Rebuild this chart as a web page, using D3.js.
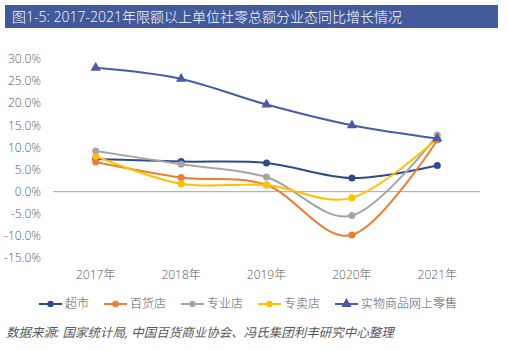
<!DOCTYPE html>
<html>
<head>
<meta charset="utf-8">
<script src="https://cdn.jsdelivr.net/npm/d3@7"></script>
<style>
  body { margin: 0; background: #fff; }
  svg { font-family: "Open Sans", "Noto Sans CJK SC", sans-serif; }
</style>
</head>
<body>
<div id="content"></div>
<script>
const years = ["2017年", "2018年", "2019年", "2020年", "2021年"];
const yTicks = [30, 25, 20, 15, 10, 5, 0, -5, -10, -15];
const seriesNames = ["超市", "百货店", "专业店", "专卖店", "实物商品网上零售"];
const supermarket = [7.4, 6.8, 6.5, 3.1, 5.9];
const department = [6.7, 3.2, 1.5, -9.8, 11.7];
const specialty = [9.2, 6.2, 3.3, -5.4, 12.8];
const exclusive = [8.0, 1.8, 1.5, -1.4, 12.0];
const online = [28.0, 25.5, 19.7, 15.0, 12.0];
const colors = ["#2b4b8c", "#ed7d31", "#a5a5a5", "#ffc000", "#4a5aa6"];
const title = "图1-5: 2017-2021年限额以上单位社零总额分业态同比增长情况";
const source = "数据来源: 国家统计局, 中国百货商业协会、冯氏集团利丰研究中心整理";

const series = [supermarket, department, specialty, exclusive, online];

const width = 508;
const height = 351;

const canvas = d3.select("#content")
    .append("svg")
    .attr("width", width)
    .attr("height", height);

// title bar
canvas.append("rect")
    .attr("x", 5).attr("y", 5)
    .attr("width", 493).attr("height", 23)
    .attr("fill", "#42599b");
canvas.append("text")
    .attr("x", 12).attr("y", 21.5)
    .attr("fill", "#fff")
    .attr("font-size", 14)
    .attr("font-weight", 300)
    .text(title);

const xScale = d3.scalePoint()
    .domain(years)
    .range([53, 480])
    .padding(0.5);
const yScale = d3.scaleLinear()
    .domain([-15, 30])
    .range([258, 59]);

// y labels
canvas.append("g")
    .selectAll("text")
    .data(yTicks)
    .enter()
    .append("text")
    .attr("x", 41)
    .attr("y", d => yScale(d))
    .attr("dy", "0.35em")
    .attr("text-anchor", "end")
    .attr("font-size", 12)
    .attr("font-weight", 300)
    .attr("fill", "#595959")
    .text(d => d.toFixed(1) + "%");

// zero line
canvas.append("line")
    .attr("x1", 53).attr("x2", 480)
    .attr("y1", yScale(0)).attr("y2", yScale(0))
    .attr("stroke", "#a6a6a6")
    .attr("stroke-width", 1);

// x labels
canvas.append("g")
    .selectAll("text")
    .data(years)
    .enter()
    .append("text")
    .attr("x", d => xScale(d))
    .attr("y", 275)
    .attr("dy", "0.35em")
    .attr("text-anchor", "middle")
    .attr("font-size", 12)
    .attr("font-weight", 300)
    .attr("fill", "#595959")
    .text(d => d);

const line = d3.line()
    .x((d, i) => xScale(years[i]))
    .y(d => yScale(d))
    .curve(d3.curveCardinal);

const tri = d3.symbol().type(d3.symbolTriangle).size(45);

series.forEach((vals, si) => {
    const g = canvas.append("g");
    g.append("path")
        .attr("d", line(vals))
        .attr("fill", "none")
        .attr("stroke", colors[si])
        .attr("stroke-width", 2);
    if (si === 4) {
        g.selectAll("path.m")
            .data(vals)
            .enter()
            .append("path")
            .attr("class", "m")
            .attr("d", tri)
            .attr("transform", (d, i) => `translate(${xScale(years[i])},${yScale(d)})`)
            .attr("fill", colors[si]);
    } else {
        g.selectAll("circle")
            .data(vals)
            .enter()
            .append("circle")
            .attr("cx", (d, i) => xScale(years[i]))
            .attr("cy", d => yScale(d))
            .attr("r", 3.5)
            .attr("fill", colors[si]);
    }
});

// legend
const legendX = [39, 104, 181, 258, 335];
const legend = canvas.append("g");
seriesNames.forEach((name, i) => {
    const lx = legendX[i];
    const ly = 304;
    legend.append("line")
        .attr("x1", lx).attr("x2", lx + 23)
        .attr("y1", ly).attr("y2", ly)
        .attr("stroke", colors[i])
        .attr("stroke-width", 2);
    if (i === 4) {
        legend.append("path")
            .attr("d", tri)
            .attr("transform", `translate(${lx + 11.5},${ly})`)
            .attr("fill", colors[i]);
    } else {
        legend.append("circle")
            .attr("cx", lx + 11.5).attr("cy", ly)
            .attr("r", 3.2)
            .attr("fill", colors[i]);
    }
    legend.append("text")
        .attr("x", lx + 26)
        .attr("y", ly)
        .attr("dy", "0.35em")
        .attr("font-size", 12)
        .attr("font-weight", 300)
        .attr("fill", "#595959")
        .text(name);
});

// source note
canvas.append("text")
    .attr("x", 6)
    .attr("y", 333)
    .attr("dy", "0.35em")
    .attr("font-size", 12.5)
    .attr("font-style", "italic")
    .attr("fill", "#595959")
    .text(source);
</script>
</body>
</html>
